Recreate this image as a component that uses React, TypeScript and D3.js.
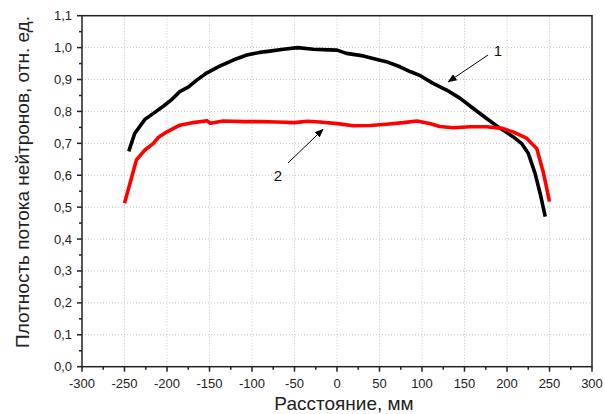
import React from "react";
import * as d3 from "d3";

const xTicks = [-300, -250, -200, -150, -100, -50, 0, 50, 100, 150, 200, 250, 300];
const yTicks = [0, 0.1, 0.2, 0.3, 0.4, 0.5, 0.6, 0.7, 0.8, 0.9, 1.0, 1.1];

const series1X = [-245, -238, -226, -216, -204, -195, -185, -175, -165, -153, -138, -122, -106, -91, -79, -63, -46, -28, -10, 0, 11, 31, 47, 58, 74, 86, 98, 113, 129, 145, 160, 176, 192, 207, 217, 225, 233, 239, 245];
const series1Y = [0.675, 0.731, 0.775, 0.794, 0.817, 0.836, 0.862, 0.876, 0.898, 0.921, 0.942, 0.961, 0.977, 0.985, 0.989, 0.995, 1.0, 0.995, 0.993, 0.992, 0.982, 0.974, 0.963, 0.956, 0.940, 0.925, 0.912, 0.888, 0.867, 0.841, 0.810, 0.778, 0.747, 0.721, 0.700, 0.669, 0.606, 0.543, 0.470];

const series2X = [-250, -236, -226, -216, -210, -200, -185, -169, -153, -149, -134, -110, -90, -71, -50, -35, -20, 3, 19, 39, 58, 78, 94, 109, 121, 137, 157, 176, 194, 207, 223, 235, 243, 250];
const series2Y = [0.512, 0.648, 0.679, 0.700, 0.719, 0.736, 0.757, 0.765, 0.771, 0.763, 0.770, 0.768, 0.768, 0.767, 0.765, 0.769, 0.767, 0.761, 0.755, 0.756, 0.760, 0.765, 0.770, 0.762, 0.753, 0.749, 0.752, 0.752, 0.747, 0.736, 0.716, 0.684, 0.606, 0.517];

const xTitle = "Расстояние, мм";
const yTitle = "Плотность потока нейтронов, отн. ед.";

const W = 605;
const H = 414;
const left = 82;
const right = 592;
const top = 15.7;
const bottom = 366.7;

export default function App() {
  const x = d3.scaleLinear().domain([-300, 300]).range([left, right]);
  const y = d3.scaleLinear().domain([0, 1.1]).range([bottom, top]);
  const line = d3
    .line<[number, number]>()
    .x((d) => x(d[0]))
    .y((d) => y(d[1]));
  const d1 = series1X.map((v, i) => [v, series1Y[i]] as [number, number]);
  const d2 = series2X.map((v, i) => [v, series2Y[i]] as [number, number]);
  const xMinor = d3.range(-275, 300, 50);
  const yMinor = d3.range(0.05, 1.1, 0.1);
  const font = "Arial, 'Liberation Sans', sans-serif";
  const fmtY = (v: number) => v.toFixed(1).replace(".", ",");

  return (
    <svg
      width={W}
      height={H}
      style={{ position: "absolute", left: 0, top: 0, background: "#fff" }}
      fontFamily={font}
    >
      <defs>
        <marker id="ah" viewBox="0 0 10 10" refX="9" refY="5" markerWidth="9" markerHeight="9" orient="auto" markerUnits="userSpaceOnUse">
          <path d="M0,1 L10,5 L0,9 Z" fill="#000" />
        </marker>
      </defs>
      {/* grid */}
      {xTicks.slice(1, -1).map((t) => (
        <line key={"gx" + t} x1={x(t)} x2={x(t)} y1={top} y2={bottom} stroke="#c4c4c4" strokeWidth={1} strokeDasharray="1,2" />
      ))}
      {yTicks.slice(1, -1).map((t) => (
        <line key={"gy" + t} x1={left} x2={right} y1={y(t)} y2={y(t)} stroke="#c4c4c4" strokeWidth={1} strokeDasharray="1,2" />
      ))}
      {/* data */}
      <path d={line(d1) || ""} fill="none" stroke="#000" strokeWidth={3.6} strokeLinejoin="round" />
      <path d={line(d2) || ""} fill="none" stroke="#ff0000" strokeWidth={3.6} strokeLinejoin="round" />
      {/* frame */}
      <rect x={left} y={top} width={right - left} height={bottom - top} fill="none" stroke="#222" strokeWidth={1.5} />
      {/* x ticks */}
      {xTicks.map((t) => (
        <g key={"xt" + t}>
          <line x1={x(t)} x2={x(t)} y1={bottom} y2={bottom + 5} stroke="#222" strokeWidth={1.5} />
          <text x={x(t)} y={bottom + 21} textAnchor="middle" fontSize={13} fill="#222">
            {t}
          </text>
        </g>
      ))}
      {xMinor.map((t) => (
        <line key={"xm" + t} x1={x(t)} x2={x(t)} y1={bottom} y2={bottom + 3} stroke="#222" strokeWidth={1.5} />
      ))}
      {/* y ticks */}
      {yTicks.map((t) => (
        <g key={"yt" + t}>
          <line x1={left - 5} x2={left} y1={y(t)} y2={y(t)} stroke="#222" strokeWidth={1.5} />
          <text x={left - 10} y={y(t) + 4.5} textAnchor="end" fontSize={13} fill="#222">
            {fmtY(t)}
          </text>
        </g>
      ))}
      {yMinor.map((t) => (
        <line key={"ym" + t} x1={left - 3} x2={left} y1={y(t)} y2={y(t)} stroke="#222" strokeWidth={1.5} />
      ))}
      {/* titles */}
      <text x={344} y={410} textAnchor="middle" fontSize={19} fill="#222">
        {xTitle}
      </text>
      <text
        transform={`translate(29, 182) rotate(-90)`}
        textAnchor="middle"
        fontSize={19}
        fill="#222"
      >
        {yTitle}
      </text>
      {/* annotations */}
      <line x1={488} y1={55} x2={x(131)} y2={y(0.893)} stroke="#000" strokeWidth={1} markerEnd="url(#ah)" />
      <text x={498} y={56} textAnchor="middle" fontSize={15} fill="#111">1</text>
      <line x1={288} y1={163} x2={x(-16.5)} y2={y(0.744)} stroke="#000" strokeWidth={1} markerEnd="url(#ah)" />
      <text x={278} y={181} textAnchor="middle" fontSize={15} fill="#111">2</text>
    </svg>
  );
}
